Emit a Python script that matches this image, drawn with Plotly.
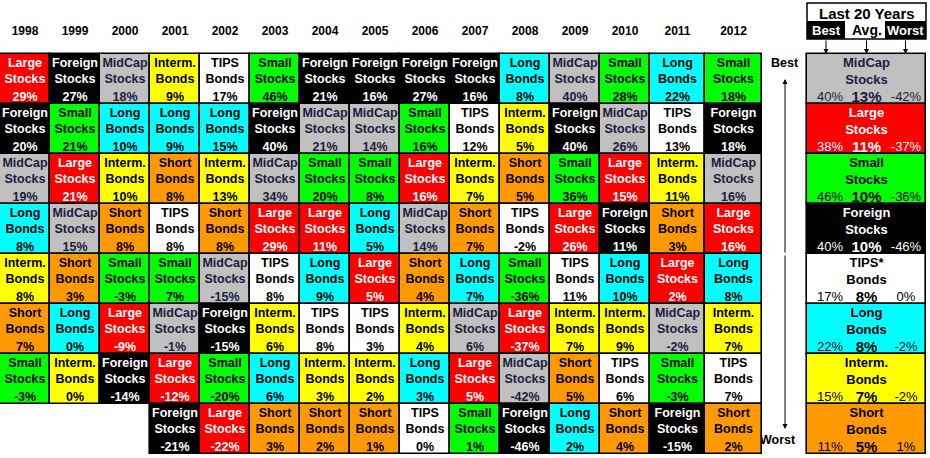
import plotly.graph_objects as go

years = ["1998", "1999", "2000", "2001", "2002", "2003", "2004", "2005",
         "2006", "2007", "2008", "2009", "2010", "2011", "2012"]

# assets ranked best -> worst for each year, with that year's return (%)
ranked_assets = [
    ["Large", "Foreign", "MidCap", "Long", "Interm.", "Short", "Small"],
    ["Foreign", "Small", "Large", "MidCap", "Short", "Long", "Interm."],
    ["MidCap", "Long", "Interm.", "Short", "Small", "Large", "Foreign"],
    ["Interm.", "Long", "Short", "TIPS", "Small", "MidCap", "Large", "Foreign"],
    ["TIPS", "Long", "Interm.", "Short", "MidCap", "Foreign", "Small", "Large"],
    ["Small", "Foreign", "MidCap", "Large", "TIPS", "Interm.", "Long", "Short"],
    ["Foreign", "MidCap", "Small", "Large", "Long", "TIPS", "Interm.", "Short"],
    ["Foreign", "MidCap", "Small", "Long", "Large", "TIPS", "Interm.", "Short"],
    ["Foreign", "Small", "Large", "MidCap", "Short", "Interm.", "Long", "TIPS"],
    ["Foreign", "TIPS", "Interm.", "Short", "Long", "MidCap", "Large", "Small"],
    ["Long", "Interm.", "Short", "TIPS", "Small", "Large", "MidCap", "Foreign"],
    ["MidCap", "Foreign", "Small", "Large", "TIPS", "Interm.", "Short", "Long"],
    ["Small", "MidCap", "Large", "Foreign", "Long", "Interm.", "TIPS", "Short"],
    ["Long", "TIPS", "Interm.", "Short", "Large", "MidCap", "Small", "Foreign"],
    ["Small", "Foreign", "MidCap", "Large", "Long", "Interm.", "TIPS", "Short"],
]
ranked_returns = [
    [29, 20, 19, 8, 8, 7, -3],
    [27, 21, 21, 15, 3, 0, 0],
    [18, 10, 10, 8, -3, -9, -14],
    [9, 9, 8, 8, 7, -1, -12, -21],
    [17, 15, 13, 8, -15, -15, -20, -22],
    [46, 40, 34, 29, 8, 6, 6, 3],
    [21, 21, 20, 11, 9, 8, 3, 2],
    [16, 14, 8, 5, 5, 3, 2, 1],
    [27, 16, 16, 14, 4, 4, 3, 0],
    [16, 12, 7, 7, 7, 6, 5, 1],
    [8, 5, 5, -2, -36, -37, -42, -46],
    [40, 40, 36, 26, 11, 7, 5, 2],
    [28, 26, 15, 11, 10, 9, 6, 4],
    [22, 13, 11, 3, 2, -2, -3, -15],
    [18, 18, 16, 16, 8, 7, 7, 2],
]

summary_assets = ["MidCap", "Large", "Small", "Foreign", "TIPS", "Long", "Interm.", "Short"]
summary_best = [40, 38, 46, 40, 17, 22, 15, 11]
summary_avg = [13, 11, 10, 10, 8, 8, 7, 5]
summary_worst = [-42, -37, -36, -46, 0, -2, -2, 1]

labels = {
    "Large": "Large<br>Stocks", "Foreign": "Foreign<br>Stocks",
    "MidCap": "MidCap<br>Stocks", "Small": "Small<br>Stocks",
    "TIPS": "TIPS<br>Bonds", "Long": "Long<br>Bonds",
    "Interm.": "Interm.<br>Bonds", "Short": "Short<br>Bonds",
}
fills = {
    "Large": "#ff0000", "Foreign": "#000000", "MidCap": "#c0c0c0",
    "Small": "#00ff00", "TIPS": "#ffffff", "Long": "#00ffff",
    "Interm.": "#ffff00", "Short": "#ff9900",
}
inks = {k: "#000000" for k in fills}
inks.update({"Large": "#ffffff", "Foreign": "#ffffff", "MidCap": "#1c1c3c"})

FONT = "Liberation Sans, Arial, sans-serif"

# layout constants (pixel x axis, rank-unit y axis)
col_w = [50] * 13 + [55, 57]
edges = [0]
for w in col_w:
    edges.append(edges[-1] + w)
centers = [(a + b) / 2 for a, b in zip(edges[:-1], edges[1:])]
px0, px1 = 807, 926
pc = (px0 + px1) / 2

fig = go.Figure()

# grid cells
bx, bb, bw, bc = [], [], [], []
nx, ny, nt, nc = [], [], [], []
vt = []
for i, yr in enumerate(years):
    for r, (a, v) in enumerate(zip(ranked_assets[i], ranked_returns[i])):
        bx.append(centers[i]); bb.append(r); bw.append(col_w[i]); bc.append(fills[a])
        nx.append(centers[i]); ny.append(r); nt.append(labels[a]); nc.append(inks[a])
        vt.append(f"{v}%")

for j, a in enumerate(summary_assets):
    bx.append(pc); bb.append(j); bw.append(px1 - px0); bc.append(fills[a])

fig.add_bar(x=bx, y=[1] * len(bx), base=bb, width=bw,
            marker=dict(color=bc, line=dict(color="black", width=1.6)),
            hoverinfo="skip", showlegend=False)

fig.add_scatter(x=nx, y=[r + 0.36 for r in ny], text=nt, mode="text",
                textfont=dict(family=FONT, size=12.5, color=nc, weight="bold"),
                hoverinfo="skip", showlegend=False)
fig.add_scatter(x=nx, y=[r + 0.88 for r in ny], text=vt, mode="text",
                textfont=dict(family=FONT, size=12.5, color=nc, weight="bold"),
                hoverinfo="skip", showlegend=False)

# summary panel text
sc = [inks[a] for a in summary_assets]
rows = list(range(len(summary_assets)))
fig.add_scatter(x=[pc] * len(rows), y=[r + 0.36 for r in rows],
                text=[labels[a].replace("TIPS", "TIPS*") for a in summary_assets],
                mode="text", textfont=dict(family=FONT, size=13, color=sc, weight="bold"),
                hoverinfo="skip", showlegend=False)
fig.add_scatter(x=[px0 + 23] * len(rows), y=[r + 0.88 for r in rows],
                text=[f"{v}%" for v in summary_best], mode="text",
                textfont=dict(family=FONT, size=13, color=sc),
                hoverinfo="skip", showlegend=False)
fig.add_scatter(x=[pc] * len(rows), y=[r + 0.88 for r in rows],
                text=[f"{v}%" for v in summary_avg], mode="text",
                textfont=dict(family=FONT, size=15, color=sc, weight="bold"),
                hoverinfo="skip", showlegend=False)
fig.add_scatter(x=[px1 - 20] * len(rows), y=[r + 0.88 for r in rows],
                text=[f"{v}%" for v in summary_worst], mode="text",
                textfont=dict(family=FONT, size=13, color=sc),
                hoverinfo="skip", showlegend=False)

# year headers
fig.add_scatter(x=centers, y=[-0.44] * len(years), text=years, mode="text",
                textfont=dict(family=FONT, size=12, color="black", weight="bold"),
                hoverinfo="skip", showlegend=False)

# "Last 20 Years" header block
bx_best, bx_worst = (px0, 845), (885, px1)
shapes = [
    dict(type="rect", x0=px0, x1=px1, y0=-1.02, y1=-0.3, line=dict(color="black", width=1.5),
         fillcolor="white"),
    dict(type="rect", x0=bx_best[0], x1=bx_best[1], y0=-0.66, y1=-0.3, line=dict(width=0),
         fillcolor="black"),
    dict(type="rect", x0=bx_worst[0], x1=bx_worst[1], y0=-0.66, y1=-0.3, line=dict(width=0),
         fillcolor="black"),
]
annotations = [
    dict(x=pc, y=-0.82, text="<b>Last 20 Years</b>", showarrow=False,
         font=dict(family=FONT, size=15, color="black")),
    dict(x=sum(bx_best) / 2, y=-0.48, text="<b>Best</b>", showarrow=False,
         font=dict(family=FONT, size=13, color="white")),
    dict(x=pc, y=-0.48, text="<b>Avg.</b>", showarrow=False,
         font=dict(family=FONT, size=14, color="black")),
    dict(x=sum(bx_worst) / 2, y=-0.48, text="<b>Worst</b>", showarrow=False,
         font=dict(family=FONT, size=13, color="white")),
    dict(x=785, y=0.18, text="<b>Best</b>", showarrow=False,
         font=dict(family=FONT, size=12.5, color="black")),
    dict(x=778, y=7.72, text="<b>Worst</b>", showarrow=False,
         font=dict(family=FONT, size=12.5, color="black")),
    # Best <-> Worst arrow
    dict(x=785, y=0.5, ax=785, ay=4.0, axref="x", ayref="y", showarrow=True,
         arrowhead=2, arrowsize=1, arrowwidth=1, arrowcolor="black", text=""),
    dict(x=785, y=7.5, ax=785, ay=4.0, axref="x", ayref="y", showarrow=True,
         arrowhead=2, arrowsize=1, arrowwidth=1, arrowcolor="black", text=""),
]
for xa in (sum(bx_best) / 2, pc, sum(bx_worst) / 2):
    annotations.append(dict(x=xa, y=0.0, ax=xa, ay=-0.3, axref="x", ayref="y",
                            showarrow=True, arrowhead=2, arrowsize=1, arrowwidth=1,
                            arrowcolor="black", text=""))

fig.update_layout(
    width=930, height=458,
    margin=dict(l=0, r=0, t=0, b=0),
    paper_bgcolor="white", plot_bgcolor="white",
    barmode="overlay", bargap=0,
    xaxis=dict(range=[0, 930], visible=False, fixedrange=True),
    yaxis=dict(range=[8.08, -1.08], visible=False, fixedrange=True),
    shapes=shapes, annotations=annotations,
)
fig.write_html("out.html", config={"displayModeBar": False},
               post_script="document.body.style.margin='0';document.body.style.overflow='hidden';")
